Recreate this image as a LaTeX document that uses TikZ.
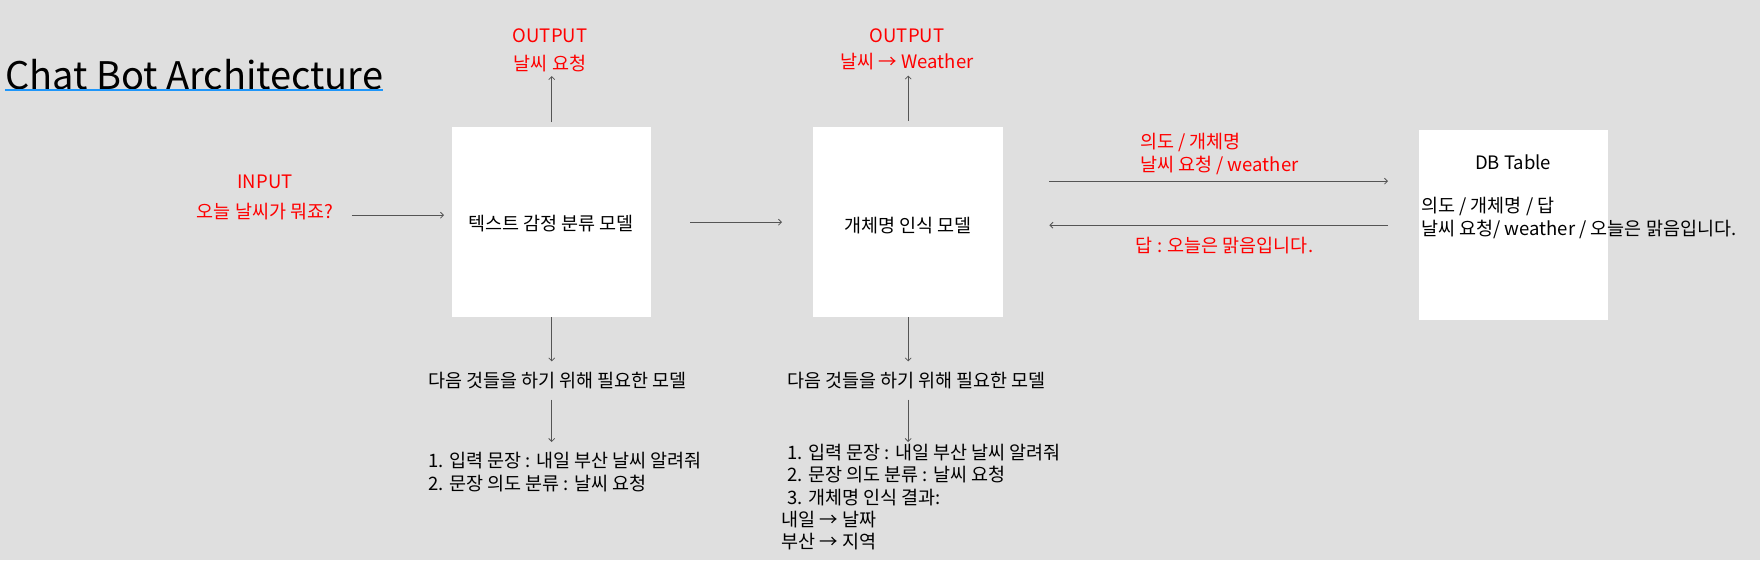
\documentclass[tikz,border=0pt]{standalone}
\usepackage{fontspec}
\setmainfont{Noto Sans CJK KR}
\usetikzlibrary{arrows.meta}
\definecolor{bgc}{RGB}{223,223,223}
\definecolor{txtred}{RGB}{255,0,0}
\definecolor{arrc}{RGB}{85,85,85}
\definecolor{ulblue}{RGB}{30,150,250}
\begin{document}
\begin{tikzpicture}[x=1pt,y=-1pt,
  boxn/.style={fill=white, draw=none, inner sep=0pt, anchor=north west},
  lbl/.style={font=\fontsize{18.5}{23}\selectfont, inner sep=0pt, align=center, text=black},
  redlbl/.style={lbl, text=txtred},
  conn/.style={draw=arrc, line width=1pt, -{Straight Barb[length=3pt,width=6pt,line width=0.8pt]}}
]
\fill[bgc] (0,0) rectangle (1760,560);
\useasboundingbox (0,0) rectangle (1760,560);

% title
\node[inner sep=0pt, anchor=base west, font=\fontsize{38}{42}\selectfont] (title) at (5,89) {Chat Bot Architecture};
\draw[ulblue, line width=2pt] ([yshift=-1pt]title.base west) -- ([yshift=-1pt]title.base east);

% boxes
\node[boxn, minimum width=199pt, minimum height=190pt] (m1) at (452,127) {};
\node[boxn, minimum width=190pt, minimum height=190pt] (m2) at (813,127) {};
\node[boxn, minimum width=189pt, minimum height=190pt] (db) at (1419,130) {};

% box texts
\node[lbl] (m1t) at (551,224) {텍스트 감정 분류 모델};
\node[lbl] (m2t) at (908,226) {개체명 인식 모델};
\node[lbl] (dbt) at (1513,162) {DB Table};
\node[lbl, align=left, anchor=west, font=\fontsize{18.5}{22.5}\selectfont] (dbc) at (1421,218) {의도 / 개체명 / 답\\날씨 요청/ weather / 오늘은 맑음입니다.};

% red labels
\node[redlbl, font=\fontsize{18.5}{29.5}\selectfont] (inlbl) at (265,197.5) {INPUT\\오늘 날씨가 뭐죠?};
\node[redlbl, font=\fontsize{18.5}{27.5}\selectfont] (out1) at (550,50.5) {OUTPUT\\날씨 요청};
\node[redlbl, font=\fontsize{18.5}{26.5}\selectfont] (out2) at (907,49.5) {OUTPUT\\날씨 → Weather};
\node[redlbl, align=left, anchor=west, font=\fontsize{18.5}{23}\selectfont] (req) at (1140,154) {의도 / 개체명\\날씨 요청 / weather};
\node[redlbl] (ans) at (1224.5,245.5) {답 : 오늘은 맑음입니다.};

% below texts
\node[lbl] (need1) at (557.5,381) {다음 것들을 하기 위해 필요한 모델};
\node[lbl] (need2) at (916.5,381) {다음 것들을 하기 위해 필요한 모델};
\node[lbl, align=left, anchor=north west, font=\fontsize{18.5}{23}\selectfont] (list1) at (428,452) {1. 입력 문장 : 내일 부산 날씨 알려줘\\2. 문장 의도 분류 : 날씨 요청};
\node[lbl, align=left, anchor=north west, font=\fontsize{18.5}{22.3}\selectfont] (list2) at (781,444) {\hspace*{6pt}1. 입력 문장 : 내일 부산 날씨 알려줘\\\hspace*{6pt}2. 문장 의도 분류 : 날씨 요청\\\hspace*{6pt}3. 개체명 인식 결과:\\내일 → 날짜\\부산 → 지역};

% connectors
\draw[conn, shorten <=18.5pt, shorten >=8pt] ([yshift=7pt]m1.west -| inlbl.east) -- ([yshift=7pt]m1.west);
\draw[conn, shorten <=5pt, shorten >=4pt] (m1.north) -- (m1.north |- out1.south);
\draw[conn, shorten <=39pt, shorten >=31pt] (m1.east) -- (m2.west);
\draw[conn, shorten <=6pt, shorten >=5pt] (m2.north) -- (m2.north |- out2.south);
\draw[conn, shorten <=46pt, shorten >=31pt] ([yshift=41pt]m2.east) -- ([yshift=41pt]m2.east -| db.west);
\draw[conn, shorten <=31pt, shorten >=46pt] (db.west) -- (db.west -| m2.east);
\draw[conn, shorten >=11pt] (m1.south) -- (m1.south |- need1.north);
\draw[conn, shorten <=10pt, shorten >=10pt] (m1.south |- need1.south) -- (m1.south |- list1.north);
\draw[conn, shorten >=11pt] (m2.south) -- (m2.south |- need2.north);
\draw[conn, shorten <=10pt, shorten >=2pt] (m2.south |- need2.south) -- (m2.south |- list2.north);
\end{tikzpicture}
\end{document}
